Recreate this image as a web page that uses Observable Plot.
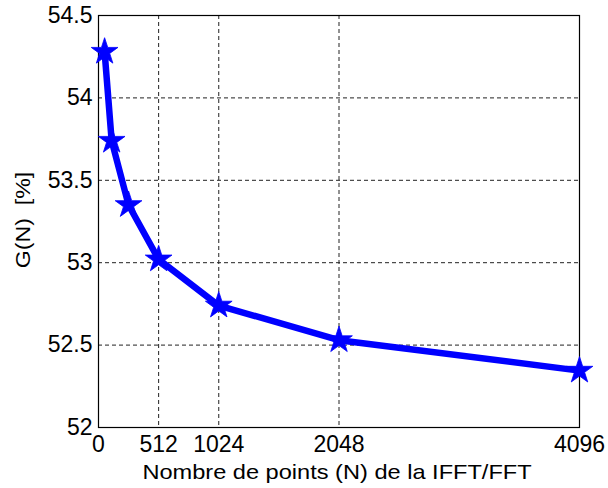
<!DOCTYPE html>
<html><head><meta charset="utf-8">
<script src="https://cdn.jsdelivr.net/npm/d3@7"></script>
<script src="https://cdn.jsdelivr.net/npm/@observablehq/plot@0.6"></script>
<style>body{margin:0;background:#fff}</style></head>
<body><div id="chart"></div>
<script>
const nPoints = [52, 112, 256, 512, 1024, 2048, 4096];
const gain = [54.28, 53.74, 53.35, 53.02, 52.74, 52.53, 52.345];
const xTicks = [0, 512, 1024, 2048, 4096];
const yTicks = [52, 52.5, 53, 53.5, 54, 54.5];
const xLabel = "Nombre de points (N) de la IFFT/FFT";
const yLabel = "G(N)  [%]";

const data = nPoints.map((n, i) => ({n, g: gain[i]}));
const gridStyle = {stroke: "#222", strokeOpacity: 1, strokeDasharray: "4,3", strokeWidth: 1};

const svg = Plot.plot({
  width: 608, height: 488,
  marginLeft: 98, marginRight: 29, marginTop: 15, marginBottom: 61,
  x: {domain: [0, 4096]},
  y: {domain: [52, 54.5]},
  style: {fontFamily: "'Liberation Sans', Arial, sans-serif", fontSize: "23px", color: "#000", background: "#fff", overflow: "visible"},
  marks: [
    Plot.gridX(xTicks, gridStyle),
    Plot.gridY(yTicks, gridStyle),
    Plot.frame({stroke: "#000", strokeWidth: 1.2}),
    Plot.axisX(xTicks, {tickSize: 0, tickPadding: 8, label: null, tickFormat: d => String(d), fontSize: 23}),
    Plot.axisY(yTicks, {tickSize: 0, tickPadding: 6, label: null, tickFormat: d => String(d), fontSize: 23}),
    Plot.line(data, {x: "n", y: "g", stroke: "#0000ff", strokeWidth: 6.5, strokeLinejoin: "round"}),
    Plot.dot(data, {x: "n", y: "g", symbol: "star", r: 8.4, fill: "#0000ff", stroke: "#0000ff", strokeWidth: 0.8})
  ]
});

const s = d3.select(svg);
s.append("g").attr("transform", "translate(337,479) scale(1.18,1)")
  .append("text").attr("text-anchor", "middle").attr("font-size", 20).attr("fill", "#000")
  .text(xLabel);
s.append("g").attr("transform", "translate(30,220) rotate(-90) scale(1.16,1)")
  .append("text").attr("text-anchor", "middle").attr("font-size", 20).attr("fill", "#000")
  .style("white-space", "pre").text(yLabel);

document.getElementById("chart").appendChild(svg);
</script>
</body></html>
